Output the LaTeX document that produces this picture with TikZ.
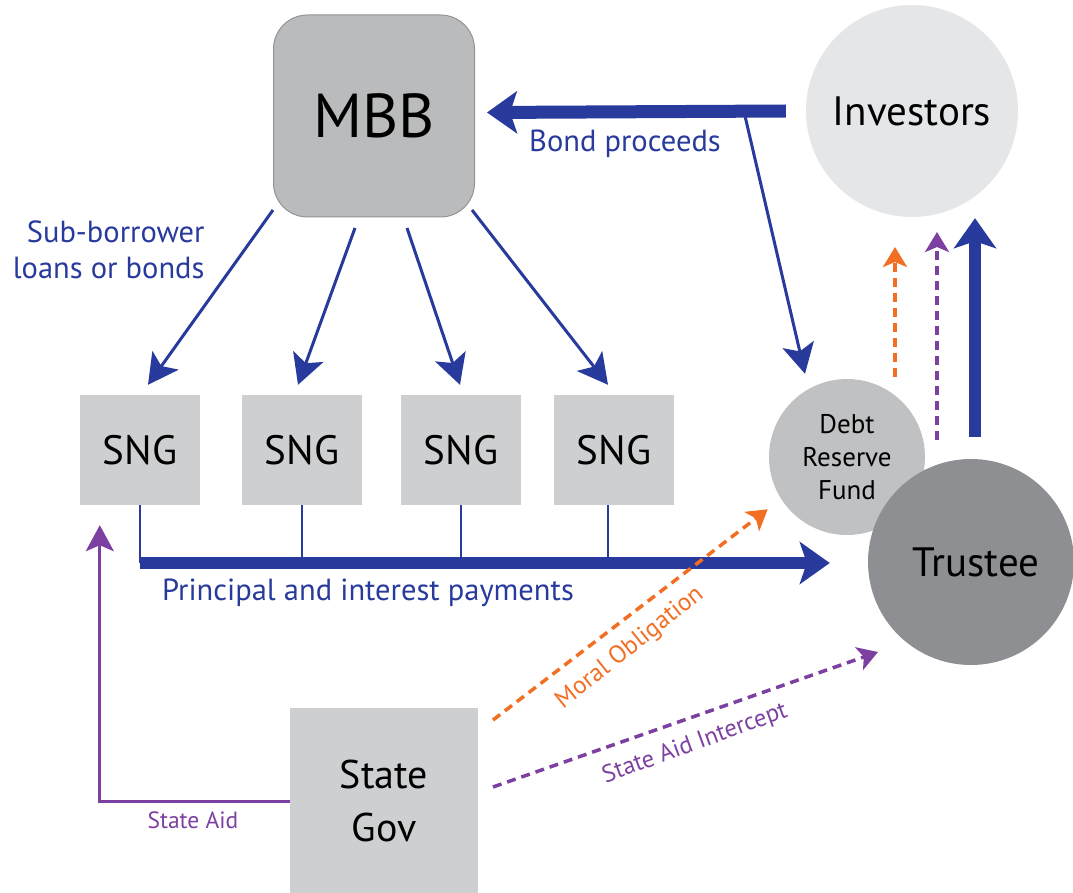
\documentclass[tikz,border=0pt]{standalone}
\usepackage{fontspec}
\setmainfont{PT Sans}
\usetikzlibrary{arrows.meta,calc,shapes.geometric}
\definecolor{flowblue}{RGB}{40,58,156}
\definecolor{moralorange}{RGB}{242,110,34}
\definecolor{aidpurple}{RGB}{124,64,160}
\definecolor{boxgray}{RGB}{205,207,209}
\definecolor{mbbgray}{RGB}{186,187,189}
\definecolor{invgray}{RGB}{229,230,232}
\definecolor{drfgray}{RGB}{192,193,195}
\definecolor{trustgray}{RGB}{142,143,146}
\tikzset{
  sngbox/.style={rectangle, fill=boxgray, minimum width=120pt, minimum height=110pt, inner sep=0pt, font=\fontsize{41}{44}\selectfont},
  bluethin/.style={draw=flowblue, line width=3pt, -{Stealth[length=30pt,width=32pt,inset=7pt]}},
  bluethick/.style={draw=flowblue, line width=13pt, -{Stealth[length=30pt,width=42pt,inset=7pt]}},
  lbl/.style={text=flowblue, font=\fontsize{30.5}{36}\selectfont},
  dashorange/.style={draw=moralorange, line width=3.5pt, dash pattern=on 9pt off 6pt, -{Stealth[length=20pt,width=24pt,inset=5pt]}},
  dashpurple/.style={draw=aidpurple, line width=3.5pt, dash pattern=on 9pt off 6pt, -{Stealth[length=20pt,width=24pt,inset=5pt]}}
}
\begin{document}
\begin{tikzpicture}[x=1pt,y=-1pt]
\useasboundingbox (0,0) rectangle (1073,893);

% main parties
\node (mbb) [rectangle, rounded corners=34pt, fill=mbbgray, draw=gray!85, line width=1pt,
  minimum width=201pt, minimum height=202pt, font=\fontsize{62}{70}\selectfont] at (374,116) {MBB};
\node (inv) [circle, fill=invgray, minimum size=212pt, inner sep=0pt, font=\fontsize{41}{44}\selectfont] at (912,111) {Investors};
\node (drf) [circle, fill=drfgray, minimum size=156pt, inner sep=0pt, align=center, font=\fontsize{27}{33}\selectfont] at (847,457) {Debt\\Reserve\\Fund};
\node (tru) [circle, fill=trustgray, minimum size=206pt, inner sep=0pt, font=\fontsize{41}{44}\selectfont] at (971,562) {\hspace*{10pt}Trustee};

% sub-national governments
\node (sng1) [sngbox] at (140,450) {SNG};
\node (sng2) [sngbox] at (302,450) {SNG};
\node (sng3) [sngbox] at (461,450) {SNG};
\node (sng4) [sngbox] at (614,450) {SNG};

\node (sgov) [rectangle, fill=boxgray, minimum width=188pt, minimum height=186pt, inner sep=0pt, align=center,
  font=\fontsize{40}{53}\selectfont] at (384,801) {State\\Gov};

% bond proceeds
\coordinate (bpstart) at ($(inv.west)+(-20,0)$);
\draw[bluethick] (bpstart) -- ($(mbb.east)+(12,-3.5)$);
\node (bplbl) [lbl] at (625,144) {Bond proceeds};
\coordinate (bpsplit) at (745,116);
\draw[bluethin] (bpsplit) -- ($(drf.north)+(-42,-5)$);

% sub-borrower loans
\coordinate (m1) at (273,210);
\coordinate (m2) at (355,228);
\coordinate (m3) at (407,228);
\coordinate (m4) at (472,210);
\draw[bluethin] (m1) -- ($(sng1.north)+(8,-10)$);
\draw[bluethin] (m2) -- ($(sng2.north)+(-4,-10)$);
\draw[bluethin] (m3) -- ($(sng3.north)+(-1,-10)$);
\draw[bluethin] (m4) -- ($(sng4.north)+(-6,-10)$);
\node (sblbl) [lbl, align=right, anchor=east, font=\fontsize{30.5}{36}\selectfont] at (208,250) {Sub-borrower\\loans or bonds};

% principal and interest payments
\coordinate (pbus) at (140,563);
\draw[flowblue, line width=2.5pt] (sng1.south) -- (pbus);
\draw[flowblue, line width=2.5pt] (sng2.south) -- (sng2.south |- pbus);
\draw[flowblue, line width=2.5pt] (sng3.south) -- (sng3.south |- pbus);
\draw[flowblue, line width=2.5pt] ($(sng4.south)+(-6,0)$) -- ($(sng4.south |- pbus)+(-6,0)$);
\draw[bluethick, line width=12pt] (pbus) -- ($(tru.west)+(-38,1)$);
\node (pilbl) [lbl] at (368,593) {Principal and interest payments};

% payments to investors
\draw[bluethick, line width=12pt] ($(tru.north)+(4,-22)$) -- ($(inv.south)+(63,1)$);
\coordinate (oup) at (895,377);
\draw[dashorange] (oup) -- (895,247);
\draw[dashpurple] ($(tru.north)+(-34,-19)$) -- (937,232);

% state support
\draw[aidpurple, line width=3pt, -{Stealth[length=26pt,width=28pt,inset=6pt]}]
  (sgov.west) -| ($(sng1.south west)+(20,20)$);
\node (salbl) [text=aidpurple, font=\fontsize{23.5}{26}\selectfont] at (193,820) {State Aid};

\coordinate (mo0) at (493,720);
\coordinate (si0) at (493,787);
\draw[dashorange] (mo0) -- ($(drf.south west)+(-24,-3)$);
\node (molbl) [text=moralorange, rotate=38.5, font=\fontsize{25}{28}\selectfont] at (630,648) {Moral Obligation};
\draw[dashpurple] (si0) -- ($(tru.center)+(-93,90)$);
\node (silbl) [text=aidpurple, rotate=20, font=\fontsize{24.5}{28}\selectfont] at (695,744) {State Aid Intercept};
\end{tikzpicture}
\end{document}
